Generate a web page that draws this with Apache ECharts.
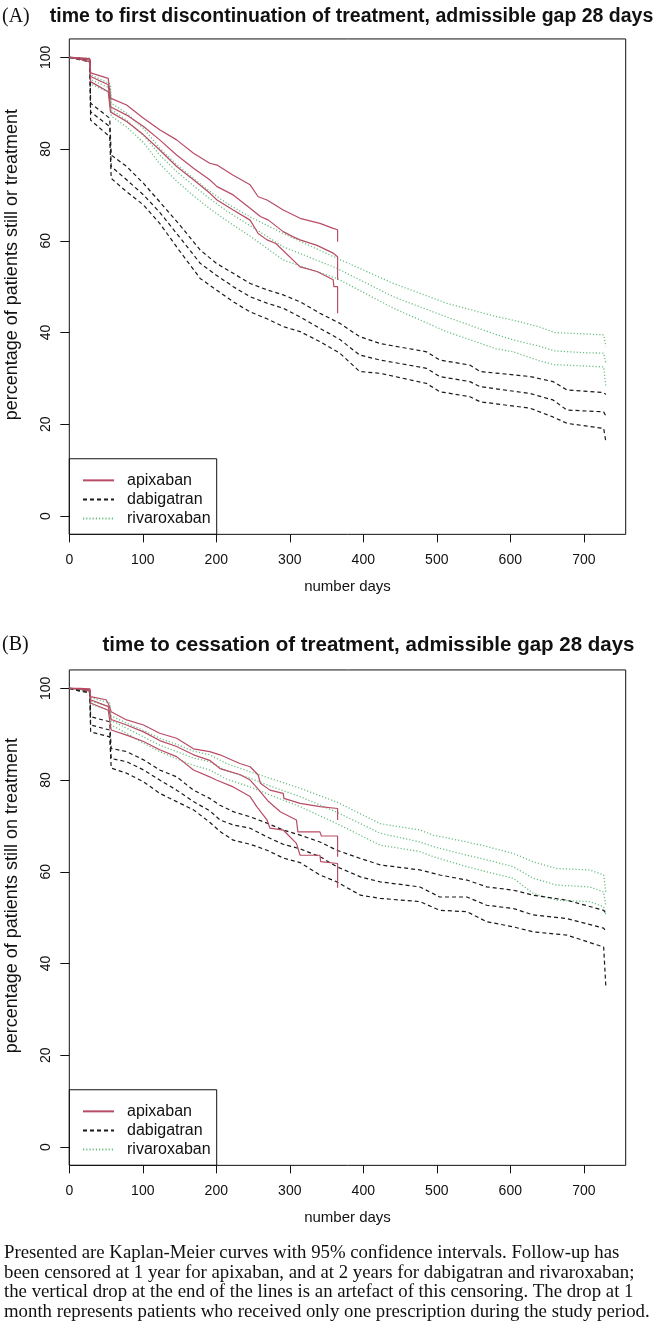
<!DOCTYPE html>
<html>
<head>
<meta charset="utf-8">
<script src="https://cdn.jsdelivr.net/npm/echarts@6/dist/echarts.min.js"></script>
<style>
html,body{margin:0;padding:0;background:#fff;}
#chart{width:661px;height:1330px;}
</style>
</head>
<body>
<div id="chart"></div>
<script>
// ---------- DATA (day, percentage) ----------
const DAY_TICKS = [0, 100, 200, 300, 400, 500, 600, 700];
const PCT_TICKS = [0, 20, 40, 60, 80, 100];
const DRUGS = ['apixaban', 'dabigatran', 'rivaroxaban'];

// Panel A: time to first discontinuation
const A_apixaban_upper = [[0,100],[14,99.9],[28,99.7],[29,96.6],[53,95.4],[56,91.1],[78,89.6],[101,86.7],[123,84.2],[146,82.0],[169,79.1],[191,76.9],[201,76.5],[223,74.3],[246,72.2],[257,69.6],[269,68.9],[291,66.7],[314,64.9],[341,63.8],[359,62.7],[365,62.4],[365,59.8]];
const A_apixaban_est = [[0,100],[14,99.8],[28,99.4],[29,95.8],[53,94.0],[56,89.2],[78,87.4],[101,84.9],[123,82.0],[146,78.7],[169,75.8],[191,73.3],[201,71.8],[223,70.0],[246,67.1],[260,65.3],[271,64.5],[291,62.0],[304,60.9],[314,60.2],[337,59.0],[359,57.3],[365,56.5],[365,51.5]];
const A_apixaban_lower = [[0,100],[14,99.6],[28,99.0],[29,94.7],[53,92.5],[56,88.1],[78,86.0],[101,83.1],[123,79.8],[146,76.2],[169,73.3],[191,70.4],[201,68.9],[223,66.7],[246,64.5],[257,61.6],[269,60.2],[281,59.4],[314,54.3],[337,53.3],[359,51.5],[360,50.0],[365,50.0],[365,44.2]];

const A_dabigatran_upper = [[0,100],[14,99.8],[28,99.5],[29,90.0],[55,86.7],[57,78.7],[78,76.2],[101,72.5],[123,68.5],[150,63.5],[178,58.0],[200,55.1],[223,52.9],[246,50.7],[269,49.3],[291,48.2],[314,46.7],[341,44.2],[368,42.0],[395,39.1],[423,37.6],[486,35.8],[504,34.0],[545,32.9],[559,31.5],[627,30.4],[658,29.3],[677,27.5],[727,26.9],[730,26.5]];
const A_dabigatran_est = [[0,100],[14,99.7],[28,99.3],[29,88.1],[55,84.9],[57,76.2],[78,73.3],[101,70.0],[123,66.2],[150,60.8],[178,55.1],[200,52.5],[223,50.0],[246,47.8],[269,46.4],[291,45.3],[314,43.4],[341,40.9],[368,38.5],[395,35.1],[423,34.0],[486,32.2],[504,30.4],[545,29.3],[559,28.2],[627,26.7],[658,25.3],[677,23.1],[727,22.7],[730,21.8]];
const A_dabigatran_lower = [[0,100],[14,99.5],[28,99.0],[29,86.3],[55,82.7],[57,73.6],[78,70.7],[101,67.8],[123,63.8],[150,57.8],[178,51.8],[200,49.3],[223,46.7],[246,44.5],[269,43.0],[291,41.3],[314,40.2],[341,38.0],[368,35.5],[395,31.5],[423,31.1],[486,28.9],[504,27.1],[545,26.0],[559,24.9],[627,23.5],[658,21.6],[677,20.2],[727,19.1],[730,16.2]];

const A_rivaroxaban_upper = [[0,100],[14,99.9],[28,99.8],[29,96.2],[56,94.2],[57,90.0],[78,87.8],[101,84.5],[123,80.2],[146,76.6],[169,73.6],[191,70.8],[214,68.2],[246,65.2],[291,61.6],[364,56.2],[441,50.7],[513,46.4],[580,43.5],[604,42.7],[640,41.2],[660,40.0],[727,39.5],[730,37.0]];
const A_rivaroxaban_est = [[0,100],[14,99.7],[28,99.4],[29,95.2],[56,93.2],[57,88.6],[78,86.3],[101,83.0],[123,78.7],[146,75.1],[169,72.0],[191,69.2],[214,66.5],[246,63.3],[291,58.7],[364,54.0],[441,47.8],[513,43.4],[580,39.6],[604,38.4],[640,37.0],[660,36.0],[700,35.6],[727,35.5],[730,33.3]];
const A_rivaroxaban_lower = [[0,100],[14,99.5],[28,99.0],[29,94.2],[56,92.2],[57,87.2],[78,84.8],[101,81.4],[123,76.8],[146,73.0],[169,69.8],[191,67.0],[214,64.4],[246,61.0],[291,55.8],[364,51.8],[441,45.3],[513,40.2],[580,36.5],[604,35.8],[640,33.8],[660,33.0],[727,32.5],[730,28.2]];

// Panel B: time to cessation
const B_apixaban_upper = [[0,100],[14,100],[28,99.9],[29,98.2],[50,97.5],[53,96.7],[57,94.9],[78,93.1],[101,92.0],[123,90.2],[146,89.1],[169,86.8],[191,86.2],[205,85.5],[232,83.6],[246,82.9],[257,81.1],[260,79.3],[273,77.8],[291,77.1],[292,76.0],[314,74.9],[341,74.2],[365,73.8],[365,71.3]];
const B_apixaban_est = [[0,100],[14,99.9],[28,99.7],[29,97.5],[53,96.0],[57,93.2],[78,92.0],[101,90.5],[123,88.6],[146,87.3],[169,85.5],[191,84.3],[205,82.5],[232,81.2],[246,80.0],[257,78.0],[270,75.5],[287,73.1],[309,71.3],[311,68.7],[341,68.7],[343,67.8],[365,67.8],[365,63.3]];
const B_apixaban_lower = [[0,100],[14,99.8],[28,99.4],[29,96.8],[53,95.2],[57,90.9],[78,89.8],[101,88.4],[123,86.6],[146,85.1],[169,82.2],[191,80.7],[200,80.0],[223,78.5],[246,76.4],[255,74.2],[269,71.3],[273,69.5],[291,69.1],[309,66.2],[314,63.6],[341,63.6],[342,62.2],[365,61.8],[365,56.5]];

const B_dabigatran_upper = [[0,100],[14,99.8],[28,99.6],[29,93.8],[55,92.7],[57,86.9],[78,86.2],[101,84.4],[123,82.2],[146,80.7],[169,77.8],[191,76.0],[205,74.5],[223,73.1],[246,72.0],[269,70.6],[291,69.1],[314,68.0],[341,66.5],[364,64.7],[396,62.9],[423,61.5],[477,60.4],[504,59.3],[541,58.2],[568,56.7],[604,56.0],[631,54.9],[677,53.8],[727,51.6],[730,51.0]];
const B_dabigatran_est = [[0,100],[14,99.6],[28,99.3],[29,92.0],[55,90.9],[57,84.7],[78,84.0],[101,82.2],[123,80.0],[146,77.8],[169,75.3],[191,73.3],[205,71.3],[223,70.2],[246,69.5],[269,67.6],[291,66.0],[314,65.0],[341,63.3],[364,61.1],[396,58.9],[423,57.8],[477,56.7],[504,54.5],[541,54.5],[568,52.7],[604,52.0],[631,50.6],[677,49.8],[727,47.7],[730,47.0]];
const B_dabigatran_lower = [[0,100],[14,99.4],[28,99.0],[29,90.5],[55,89.4],[57,82.6],[78,81.5],[101,79.6],[123,77.1],[146,75.3],[169,73.5],[191,70.8],[205,68.8],[223,66.9],[246,66.0],[269,64.7],[291,63.0],[314,62.0],[341,59.3],[364,57.8],[396,54.9],[423,54.2],[477,53.5],[504,51.6],[541,51.3],[568,49.1],[604,48.0],[631,46.9],[677,46.2],[727,43.6],[730,34.9]];

const B_rivaroxaban_upper = [[0,100],[14,99.9],[28,99.8],[29,98.0],[55,96.8],[57,94.0],[78,92.4],[101,90.8],[123,89.1],[146,87.8],[169,86.3],[191,85.5],[214,83.6],[246,81.8],[280,80.0],[314,78.2],[364,75.2],[423,70.5],[477,69.1],[495,68.0],[541,66.5],[568,65.5],[604,64.0],[631,62.2],[663,60.7],[708,60.4],[727,59.3],[730,55.5]];
const B_rivaroxaban_est = [[0,100],[14,99.7],[28,99.5],[29,97.2],[55,96.0],[57,93.0],[78,91.3],[101,89.4],[123,87.6],[146,86.2],[169,84.8],[191,84.0],[214,82.0],[246,80.4],[280,78.3],[314,76.4],[364,73.0],[423,68.4],[477,66.5],[495,65.5],[541,63.6],[568,62.6],[604,61.1],[631,58.6],[663,57.1],[708,56.7],[727,55.6],[730,52.5]];
const B_rivaroxaban_lower = [[0,100],[14,99.5],[28,99.2],[29,96.5],[55,95.2],[57,92.0],[78,90.2],[101,88.0],[123,86.2],[146,84.6],[169,83.2],[191,82.2],[214,80.2],[246,78.5],[280,76.3],[314,74.2],[364,70.5],[423,65.8],[477,64.4],[495,63.3],[541,61.1],[568,60.0],[604,58.6],[631,55.3],[663,53.8],[708,53.5],[727,52.4],[730,50.6]];

const TITLE_A = 'time to first discontinuation of treatment, admissible gap 28 days';
const TITLE_B = 'time to cessation of treatment, admissible gap 28 days';
const YLAB_A = 'percentage of patients still or treatment';
const YLAB_B = 'percentage of patients still on treatment';
const XLAB = 'number days';
const CAPTION = [
  'Presented are Kaplan-Meier curves with 95% confidence intervals. Follow-up has',
  'been censored at 1 year for apixaban, and at 2 years for dabigatran and rivaroxaban;',
  'the vertical drop at the end of the lines is an artefact of this censoring. The drop at 1',
  'month represents patients who received only one prescription during the study period.'
];

// ---------- STYLE / LAYOUT ----------
const SANS = '"Liberation Sans", Arial, sans-serif';
const SERIF = '"Liberation Serif", "Times New Roman", serif';
const STYLE = {
  apixaban:   { color: '#b84c66', type: 'solid', width: 1.2 },
  dabigatran: { color: '#1a1a1a', type: [4, 3], width: 1.2 },
  rivaroxaban:{ color: '#6cbf84', type: [1.2, 2], width: 1.3 }
};
const PANELS = [
  { top: 38.95, title: TITLE_A, tag: '(A)', ylab: YLAB_A, titleFont: 19.5,
    sets: { apixaban: [A_apixaban_est, A_apixaban_upper, A_apixaban_lower],
            dabigatran: [A_dabigatran_est, A_dabigatran_upper, A_dabigatran_lower],
            rivaroxaban: [A_rivaroxaban_est, A_rivaroxaban_upper, A_rivaroxaban_lower] } },
  { top: 669.95, title: TITLE_B, tag: '(B)', ylab: YLAB_B, titleFont: 20.5,
    sets: { apixaban: [B_apixaban_est, B_apixaban_upper, B_apixaban_lower],
            dabigatran: [B_dabigatran_est, B_dabigatran_upper, B_dabigatran_lower],
            rivaroxaban: [B_rivaroxaban_est, B_rivaroxaban_upper, B_rivaroxaban_lower] } }
];
const GRID_LEFT = 69.3, GRID_RIGHT_EDGE = 625.7, GRID_H = 495.4;
const TITLE_Y = [17, 645];
const TITLE_CX = [351.5, 368.5];
const XLAB_Y = [587, 1218];
const YLAB_SHIFT = -22;

const grids = [], xAxes = [], yAxes = [], series = [], legends = [], graphics = [];
PANELS.forEach((p, i) => {
  grids.push({ left: GRID_LEFT, top: p.top, width: GRID_RIGHT_EDGE - GRID_LEFT, height: GRID_H,
    show: true, borderColor: '#111', borderWidth: 1, backgroundColor: 'transparent' });
  xAxes.push({ type: 'value', gridIndex: i, min: 0, max: 757,
    axisLine: { show: false, onZero: false }, splitLine: { show: false },
    axisTick: { show: true, length: 8, lineStyle: { color: '#111' }, customValues: DAY_TICKS },
    axisLabel: { customValues: DAY_TICKS, margin: 19, fontFamily: SANS, fontSize: 14, color: '#111' } });
  yAxes.push({ type: 'value', gridIndex: i, min: -4, max: 104,
    axisLine: { show: false, onZero: false }, splitLine: { show: false },
    axisTick: { show: true, length: 9, lineStyle: { color: '#111' }, customValues: PCT_TICKS },
    axisLabel: { customValues: PCT_TICKS, rotate: 90, margin: 16, fontFamily: SANS, fontSize: 14, color: '#111' } });
  DRUGS.forEach(d => {
    p.sets[d].forEach(arr => {
      const s = STYLE[d];
      series.push({ type: 'line', name: d, xAxisIndex: i, yAxisIndex: i, data: arr,
        symbol: 'none', silent: true, animation: false,
        z: d === 'rivaroxaban' ? 1 : (d === 'dabigatran' ? 2 : 3),
        itemStyle: { color: s.color },
        lineStyle: { color: s.color, type: s.type, width: s.width } });
    });
  });
  const legTop = p.top + GRID_H - 75.6;
  legends.push({ data: DRUGS, orient: 'vertical', left: 82, top: legTop + 13.6,
    itemWidth: 31, itemHeight: 14, itemGap: 3.1, padding: 0, selectedMode: false,
    itemStyle: { color: 'rgba(0,0,0,0)', borderColor: 'rgba(0,0,0,0)', borderWidth: 0, opacity: 0 },
    textStyle: { fontFamily: SANS, fontSize: 16, color: '#111', padding: [0, 0, 0, 8] } });
  graphics.push({ type: 'rect', shape: { x: GRID_LEFT, y: legTop, width: 147.4, height: 75.6 },
    style: { fill: 'none', stroke: '#111', lineWidth: 1 }, z: 10 });
  graphics.push({ type: 'text', x: 2, y: TITLE_Y[i], style: { text: p.tag, font: '20px ' + SERIF, fill: '#111', verticalAlign: 'middle', align: 'left' } });
  graphics.push({ type: 'text', x: TITLE_CX[i], y: TITLE_Y[i], style: { text: p.title, font: 'bold ' + p.titleFont + 'px ' + SANS, fill: '#111', verticalAlign: 'middle', align: 'center' } });
  graphics.push({ type: 'text', x: (GRID_LEFT + GRID_RIGHT_EDGE) / 2, y: XLAB_Y[i], style: { text: XLAB, font: '15px ' + SANS, fill: '#111', verticalAlign: 'middle', align: 'center' } });
  graphics.push({ type: 'text', x: 12, y: p.top + GRID_H / 2 + YLAB_SHIFT, rotation: Math.PI / 2,
    style: { text: p.ylab, font: '18px ' + SANS, fill: '#111', verticalAlign: 'middle', align: 'center' } });
});
const CAP_Y0 = 1253.3, CAP_DY = 19.5;
CAPTION.forEach((line, k) => {
  graphics.push({ type: 'text', x: 4, y: CAP_Y0 + k * CAP_DY, style: { text: line, font: '18.8px ' + SERIF, fill: '#111', verticalAlign: 'middle', align: 'left' } });
});

const chart = echarts.init(document.getElementById('chart'), null, { renderer: 'canvas' });
chart.setOption({
  animation: false,
  backgroundColor: '#fff',
  grid: grids, xAxis: xAxes, yAxis: yAxes, series: series,
  legend: legends, graphic: graphics
});
</script>
</body>
</html>
